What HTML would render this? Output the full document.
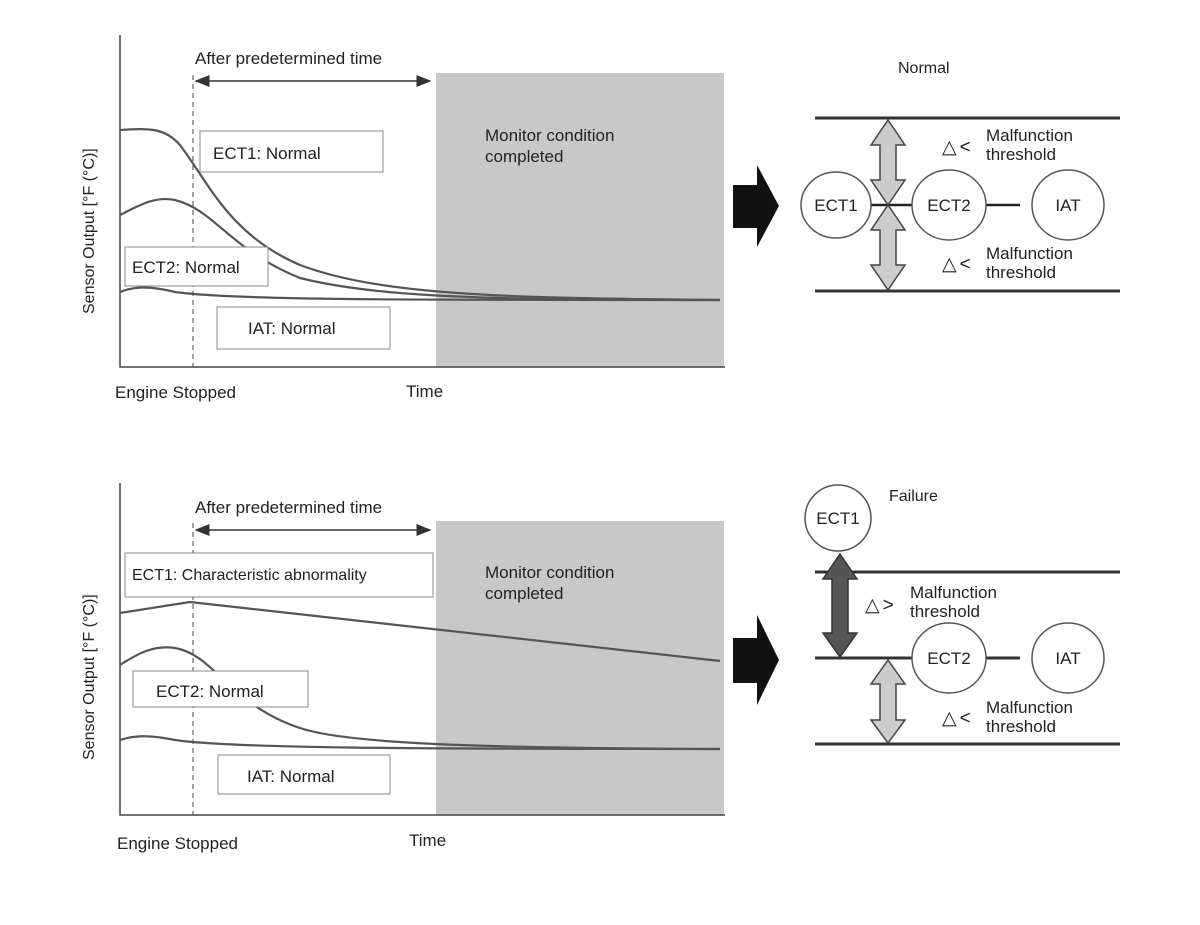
<!DOCTYPE html>
<html><head><style>body{margin:0;background:#fff}svg{display:block}text{font-family:"Liberation Sans",sans-serif;fill:#222}</style></head><body>
<svg width="1200" height="925" viewBox="0 0 1200 925">
<defs><marker id="ah" markerWidth="10" markerHeight="8" refX="9" refY="4" orient="auto-start-reverse"><path d="M0,0L10,4L0,8z" fill="#333"/></marker></defs>
<g id="top">
<rect x="436" y="73" width="288" height="294" fill="#c8c8c8"/>
<path d="M120,35V367H725" fill="none" stroke="#444" stroke-width="1.5"/>
<line x1="193" y1="75" x2="193" y2="367" stroke="#444" stroke-dasharray="5,4"/>
<line x1="196" y1="81" x2="430" y2="81" stroke="#333" stroke-width="1.5" marker-start="url(#ah)" marker-end="url(#ah)"/>
<text x="195" y="64" font-size="17">After predetermined time</text>
<text x="485" y="141" font-size="17">Monitor condition</text><text x="485" y="162" font-size="17">completed</text>
<path d="M120,130C150,128 165,128 180,145C210,185 230,235 300,265C380,295 500,298 720,300" fill="none" stroke="#555" stroke-width="2.2"/>
<path d="M120,215C140,205 155,196 175,200C215,210 230,250 300,278C380,298 500,300 720,300" fill="none" stroke="#555" stroke-width="2.2"/>
<path d="M120,292C135,286 150,286 175,292C230,300 400,300 720,300" fill="none" stroke="#555" stroke-width="2.2"/>
<rect x="200" y="131" width="183" height="41" fill="#fff" stroke="#888"/><text x="213" y="159" font-size="17">ECT1: Normal</text>
<rect x="125" y="247" width="143" height="39" fill="#fff" stroke="#888"/><text x="132" y="273" font-size="17">ECT2: Normal</text>
<rect x="217" y="307" width="173" height="42" fill="#fff" stroke="#888"/><text x="248" y="334" font-size="17">IAT: Normal</text>
<text x="115" y="398" font-size="17">Engine Stopped</text><text x="406" y="397" font-size="17">Time</text>
<text transform="translate(94,314) rotate(-90)" font-size="16">Sensor Output [°F (°C)]</text>
<path d="M733,185H757V165L779,206L757,247V228H733z" fill="#111"/>
</g>
<g>
<rect x="436" y="521" width="288" height="294" fill="#c8c8c8"/>
<path d="M120,483V815H725" fill="none" stroke="#444" stroke-width="1.5"/>
<line x1="193" y1="523" x2="193" y2="815" stroke="#444" stroke-dasharray="5,4"/>
<line x1="196" y1="530" x2="430" y2="530" stroke="#333" stroke-width="1.5" marker-start="url(#ah)" marker-end="url(#ah)"/>
<text x="195" y="513" font-size="17">After predetermined time</text>
<text x="485" y="578" font-size="17">Monitor condition</text><text x="485" y="599" font-size="17">completed</text>
<path d="M120,613L190,602L720,661" fill="none" stroke="#555" stroke-width="2.2"/>
<path d="M120,665C140,652 155,645 175,648C215,655 230,705 300,728C350,745 500,748 720,749" fill="none" stroke="#555" stroke-width="2.2"/>
<path d="M120,740C135,735 150,735 175,740C230,748 400,749 720,749" fill="none" stroke="#555" stroke-width="2.2"/>
<rect x="125" y="553" width="308" height="44" fill="#fff" stroke="#888"/><text x="132" y="580" font-size="16">ECT1: Characteristic abnormality</text>
<rect x="133" y="671" width="175" height="36" fill="#fff" stroke="#888"/><text x="156" y="697" font-size="17">ECT2: Normal</text>
<rect x="218" y="755" width="172" height="39" fill="#fff" stroke="#888"/><text x="247" y="782" font-size="17">IAT: Normal</text>
<text x="117" y="849" font-size="17">Engine Stopped</text><text x="409" y="846" font-size="17">Time</text>
<text transform="translate(94,760) rotate(-90)" font-size="16">Sensor Output [°F (°C)]</text>
<path d="M733,638H757V615L779,660L757,705V683H733z" fill="#111"/>
</g>
<!-- right top -->
<g stroke="#333" stroke-width="3"><line x1="815" y1="118" x2="1120" y2="118"/><line x1="815" y1="291" x2="1120" y2="291"/></g>
<line x1="870" y1="205" x2="1020" y2="205" stroke="#222" stroke-width="2.5"/>
<path d="M888,120L905,145H896V180L905,180L888,205L871,180H880V145H871z" fill="#ccc" stroke="#444" stroke-width="1.5"/>
<path d="M888,205L905,230H896V265H905L888,290L871,265H880V230H871z" fill="#ccc" stroke="#444" stroke-width="1.5"/>
<ellipse cx="836" cy="205" rx="35" ry="33" fill="#fff" stroke="#555" stroke-width="1.5"/>
<ellipse cx="949" cy="205" rx="37" ry="35" fill="#fff" stroke="#555" stroke-width="1.5"/>
<ellipse cx="1068" cy="205" rx="36" ry="35" fill="#fff" stroke="#555" stroke-width="1.5"/>
<text x="836" y="211" font-size="17" text-anchor="middle">ECT1</text><text x="949" y="211" font-size="17" text-anchor="middle">ECT2</text><text x="1068" y="211" font-size="17" text-anchor="middle">IAT</text>
<text x="898" y="73" font-size="16">Normal</text>
<text x="942" y="153" font-size="19" letter-spacing="3">△&lt;</text><text x="986" y="141" font-size="17">Malfunction</text><text x="986" y="160" font-size="17">threshold</text>
<text x="942" y="270" font-size="19" letter-spacing="3">△&lt;</text><text x="986" y="259" font-size="17">Malfunction</text><text x="986" y="278" font-size="17">threshold</text>
<!-- right bottom -->
<g stroke="#333" stroke-width="3"><line x1="815" y1="572" x2="1120" y2="572"/><line x1="815" y1="744" x2="1120" y2="744"/><line x1="815" y1="658" x2="1020" y2="658"/></g>
<path d="M840,554L857,579H848V633H857L840,657L823,633H832V579H823z" fill="#555" stroke="#333" stroke-width="1.5"/>
<path d="M888,660L905,684H896V720H905L888,743L871,720H880V684H871z" fill="#ccc" stroke="#444" stroke-width="1.5"/>
<ellipse cx="838" cy="518" rx="33" ry="33" fill="#fff" stroke="#555" stroke-width="1.5"/>
<ellipse cx="949" cy="658" rx="37" ry="35" fill="#fff" stroke="#555" stroke-width="1.5"/>
<ellipse cx="1068" cy="658" rx="36" ry="35" fill="#fff" stroke="#555" stroke-width="1.5"/>
<text x="838" y="524" font-size="17" text-anchor="middle">ECT1</text><text x="949" y="664" font-size="17" text-anchor="middle">ECT2</text><text x="1068" y="664" font-size="17" text-anchor="middle">IAT</text>
<text x="889" y="501" font-size="16">Failure</text>
<text x="865" y="611" font-size="19" letter-spacing="3">△&gt;</text><text x="910" y="598" font-size="17">Malfunction</text><text x="910" y="617" font-size="17">threshold</text>
<text x="942" y="724" font-size="19" letter-spacing="3">△&lt;</text><text x="986" y="713" font-size="17">Malfunction</text><text x="986" y="732" font-size="17">threshold</text>
</svg>
</body></html>
